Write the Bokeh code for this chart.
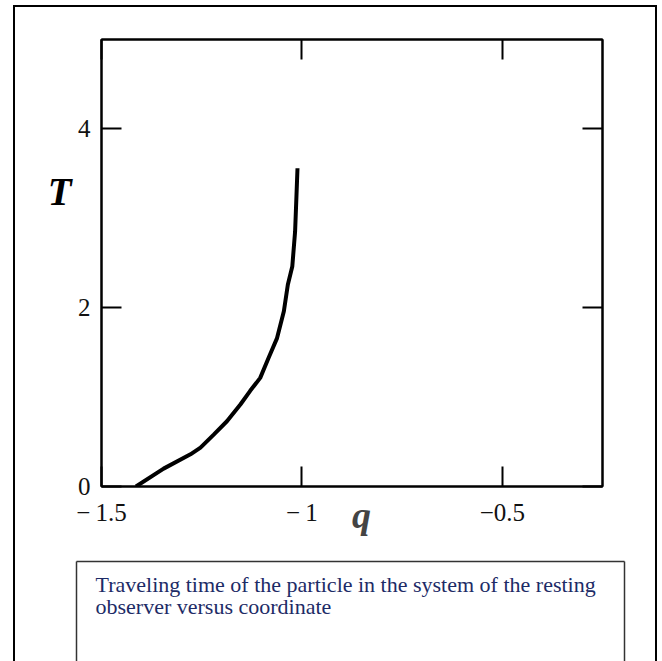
from bokeh.plotting import figure
from bokeh.layouts import column, row
from bokeh.models import LinearAxis, FixedTicker, Range1d
from bokeh.embed import file_html
from bokeh.resources import INLINE

# data
q_vals = [-1.414, -1.345, -1.278, -1.253, -1.22, -1.187, -1.153, -1.129, -1.104,
          -1.083, -1.062, -1.045, -1.035, -1.024, -1.017, -1.014, -1.011]
T_vals = [0.0, 0.2, 0.36, 0.435, 0.58, 0.73, 0.92, 1.07, 1.215,
          1.44, 1.66, 1.96, 2.26, 2.46, 2.85, 3.20, 3.56]
x_ticks = [-1.5, -1.0, -0.5]
x_tick_labels = {-1.5: "\u2212\u20091.5", -1: "\u2212\u20091", -0.5: "\u22120.5"}
y_ticks = [0, 2, 4]
x_name = "\u2002q"
y_name = "T"
y_name_at = 3.3
caption_lines = ["Traveling time of the particle in the system of the resting",
                 "observer versus coordinate"]

serif = "Liberation Serif"

# ---------------- main plot ----------------
p = figure(width=640, height=544, x_range=Range1d(-1.5, -0.25), y_range=Range1d(0, 5),
           output_backend="svg", toolbar_location=None,
           min_border_left=86, min_border_right=53, min_border_top=32, min_border_bottom=65)
p.grid.visible = False
p.outline_line_color = "black"
p.outline_line_width = 2
p.background_fill_color = "white"
p.border_fill_color = "white"


def style(ax, labels=True):
    ax.major_tick_in = 20
    ax.major_tick_out = 0
    ax.minor_tick_line_color = None
    ax.axis_line_width = 2
    ax.axis_line_color = "black"
    ax.major_tick_line_width = 2
    ax.major_tick_line_color = "black"
    ax.major_label_text_font = serif
    ax.major_label_text_font_size = "25px"
    ax.major_label_text_color = "#111111" if labels else None


p.xaxis.ticker = FixedTicker(ticks=x_ticks)
p.xaxis.major_label_overrides = x_tick_labels
p.yaxis.ticker = FixedTicker(ticks=y_ticks)
style(p.xaxis[0])
style(p.yaxis[0])
p.xaxis.major_label_standoff = 12
p.yaxis.major_label_standoff = 11
p.xaxis.axis_label = x_name
p.xaxis.axis_label_text_font = serif
p.xaxis.axis_label_text_font_size = "38px"
p.xaxis.axis_label_text_font_style = "bold italic"
p.xaxis.axis_label_standoff = -35

top = LinearAxis(ticker=FixedTicker(ticks=x_ticks))
right = LinearAxis(ticker=FixedTicker(ticks=y_ticks))
style(top, False)
style(right, False)
p.add_layout(top, "above")
p.add_layout(right, "right")

# the y name, placed beside the axis at the height where the reference shows it
name_axis = LinearAxis(ticker=FixedTicker(ticks=[y_name_at]),
                       major_label_overrides={y_name_at: y_name})
name_axis.axis_line_color = None
name_axis.major_tick_line_color = None
name_axis.minor_tick_line_color = None
name_axis.major_label_standoff = -3
name_axis.major_label_text_font = serif
name_axis.major_label_text_font_size = "39px"
name_axis.major_label_text_font_style = "bold italic"
name_axis.major_label_text_color = "black"
p.add_layout(name_axis, "left")

p.line(q_vals, T_vals, line_color="black", line_width=4)

# ---------------- caption box ----------------
c = figure(width=640, height=110, x_range=Range1d(0, 548), y_range=Range1d(-100, 0),
           output_backend="svg", toolbar_location=None,
           x_axis_location=None, y_axis_location=None,
           min_border_left=61, min_border_right=31, min_border_top=10, min_border_bottom=0)
c.grid.visible = False
c.outline_line_color = None
c.background_fill_color = "white"
c.border_fill_color = "white"
for side in ["left", "right", "above"]:
    ax = LinearAxis(ticker=FixedTicker(ticks=[]))
    ax.axis_line_color = "#333333"
    ax.axis_line_width = 1.5
    ax.major_tick_line_color = None
    ax.minor_tick_line_color = None
    ax.major_label_text_color = None
    c.add_layout(ax, side)

c.text(x=[19, 19], y=[-23, -45], text=caption_lines, text_font=serif,
       text_font_size="22px", text_color="#1d2b66", text_baseline="alphabetic",
       text_align="left")

layout = column(row(p), row(c), styles={"border-left": "2px solid black",
                                        "border-top": "2px solid black",
                                        "border-right": "2px solid black",
                                        "margin-left": "13px", "margin-top": "5px"})

open("out.html", "w").write(file_html(layout, INLINE))
